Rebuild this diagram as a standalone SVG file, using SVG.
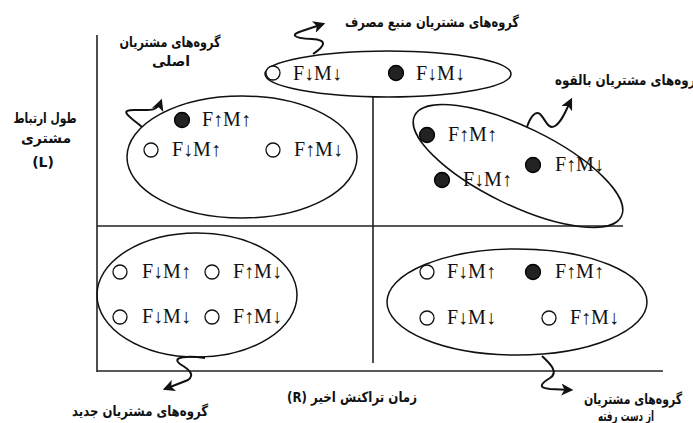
<svg xmlns="http://www.w3.org/2000/svg" width="693" height="423" viewBox="0 0 693 423">
<style>
.ax{stroke:#222;stroke-width:1.6;fill:none}
.el{stroke:#111;stroke-width:1.5;fill:none}
.o{fill:#fff;stroke:#111;stroke-width:1.3}
.f{fill:#222;stroke:#000;stroke-width:1.3}
.t{font-family:"Liberation Serif","Times New Roman",serif;font-size:20px;fill:#111}
.a{font-family:"DejaVu Sans",sans-serif;font-weight:bold;font-size:14px;fill:#111}
.w{stroke:#111;stroke-width:2;fill:none}
</style>
<defs>
<marker id="ah" viewBox="0 0 10 10" refX="8" refY="5" markerWidth="12" markerHeight="12" markerUnits="userSpaceOnUse" orient="auto">
<path d="M0,0 L10,5 L0,10 L2.5,5 Z" fill="#111"/>
</marker>
</defs>
<g id="axes">
<line class="ax" x1="97" y1="35" x2="97" y2="372"/>
<line class="ax" x1="97" y1="371" x2="663" y2="371"/>
<line class="ax" x1="97" y1="226" x2="623" y2="226"/>
<line class="ax" x1="373" y1="96" x2="373" y2="363"/>
</g>
<g id="connectors">
<path class="w" d="M313,54 C325,46 328,40 312,39 C290,38 292,34 302,31 L323,24" marker-end="url(#ah)"/>
<path class="w" d="M142,127 C130,117 118,110 134,110 C150,110 157,112 161,101" marker-end="url(#ah)"/>
<path class="w" d="M527,127 C530,118 535,110 540,114 C546,120 548,130 555,126 C562,122 566,110 571,100" marker-end="url(#ah)"/>
<path class="w" d="M205,358 C190,356 170,356 180,364 C190,370 195,375 188,380 L165,389" marker-end="url(#ah)"/>
<path class="w" d="M542,356 C548,362 560,372 550,378 C540,384 538,388 550,389 L571,390" marker-end="url(#ah)"/>
</g>
<g id="source-consumers">
<ellipse class="el" cx="388" cy="74" rx="123" ry="23"/>
<circle class="o" cx="273" cy="73" r="7"/>
<text class="t" x="293" y="80">F↓M↓</text>
<circle class="f" cx="396" cy="73" r="7.5"/>
<text class="t" x="416" y="80">F↓M↓</text>
</g>
<g id="main-customers">
<ellipse class="el" cx="242" cy="157" rx="115" ry="61"/>
<circle class="f" cx="182" cy="120" r="7.5"/>
<text class="t" x="202" y="126">F↑M↑</text>
<circle class="o" cx="151" cy="150" r="7"/>
<text class="t" x="172" y="156">F↓M↑</text>
<circle class="o" cx="273" cy="150" r="7"/>
<text class="t" x="294" y="156">F↑M↓</text>
</g>
<g id="potential-customers">
<ellipse class="el" cx="518" cy="166" rx="115" ry="39" transform="rotate(26 518 166)"/>
<circle class="f" cx="427" cy="135" r="7.5"/>
<text class="t" x="448" y="141">F↑M↑</text>
<circle class="f" cx="442" cy="180" r="7.5"/>
<text class="t" x="463" y="186">F↓M↑</text>
<circle class="f" cx="533" cy="165" r="7.5"/>
<text class="t" x="555" y="171">F↑M↓</text>
</g>
<g id="new-customers">
<ellipse class="el" cx="197" cy="295" rx="100" ry="62"/>
<circle class="o" cx="120" cy="272" r="7"/>
<text class="t" x="142" y="278">F↓M↑</text>
<circle class="o" cx="212" cy="272" r="7"/>
<text class="t" x="233" y="278">F↑M↓</text>
<circle class="o" cx="120" cy="317" r="7"/>
<text class="t" x="142" y="323">F↓M↓</text>
<circle class="o" cx="212" cy="317" r="7"/>
<text class="t" x="233" y="323">F↑M↓</text>
</g>
<g id="lost-customers">
<ellipse class="el" cx="517" cy="302" rx="130" ry="53"/>
<circle class="o" cx="427" cy="272" r="7"/>
<text class="t" x="447" y="278">F↓M↑</text>
<circle class="f" cx="533" cy="272" r="7.5"/>
<text class="t" x="555" y="278">F↑M↑</text>
<circle class="o" cx="427" cy="318" r="7"/>
<text class="t" x="447" y="324">F↓M↓</text>
<circle class="o" cx="549" cy="318" r="7"/>
<text class="t" x="570" y="324">F↑M↓</text>
</g>
<g id="labels" direction="rtl">
<text class="a" x="432" y="27" text-anchor="middle" textLength="174" lengthAdjust="spacingAndGlyphs">گروه‌های مشتریان منبع مصرف</text>
<text class="a" x="170" y="47" text-anchor="middle" textLength="101" lengthAdjust="spacingAndGlyphs">گروه‌های مشتریان</text>
<text class="a" x="171" y="66" text-anchor="middle">اصلی</text>
<text class="a" x="45" y="123" text-anchor="middle" textLength="63" lengthAdjust="spacingAndGlyphs">طول ارتباط</text>
<text class="a" x="46" y="143" text-anchor="middle">مشتری</text>
<text class="a" x="43" y="167" text-anchor="middle">(L)</text>
<text class="a" x="629" y="85" text-anchor="middle" textLength="148" lengthAdjust="spacingAndGlyphs">گروه‌های مشتریان بالقوه</text>
<text class="a" x="352" y="402" text-anchor="middle" textLength="130" lengthAdjust="spacingAndGlyphs">زمان تراکنش اخیر  (R)</text>
<text class="a" x="140" y="416" text-anchor="middle" textLength="136" lengthAdjust="spacingAndGlyphs">گروه‌های مشتریان جدید</text>
<text class="a" x="633" y="404" text-anchor="middle" textLength="98" lengthAdjust="spacingAndGlyphs">گروه‌های مشتریان</text>
<text class="a" x="626" y="421" text-anchor="middle" textLength="56" lengthAdjust="spacingAndGlyphs">از دست رفته</text>
</g>
</svg>
